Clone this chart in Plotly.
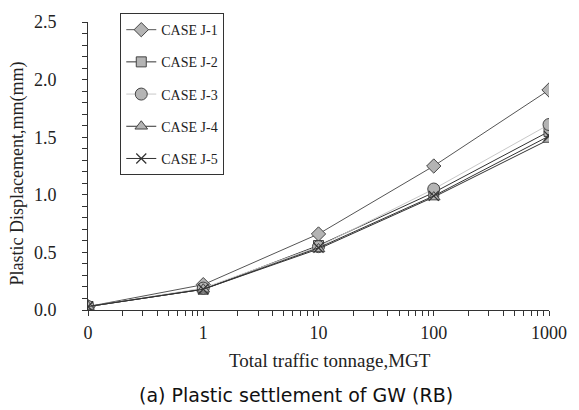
import plotly.graph_objects as go

x_vals = [0.1, 1, 10, 100, 1000]
x_ticktext = ["0", "1", "10", "100", "1000"]
series_names = ["CASE J-1", "CASE J-2", "CASE J-3", "CASE J-4", "CASE J-5"]
j1 = [0.03, 0.22, 0.66, 1.25, 1.91]
j2 = [0.03, 0.18, 0.56, 1.02, 1.55]
j3 = [0.03, 0.19, 0.55, 1.05, 1.61]
j4 = [0.03, 0.18, 0.53, 0.98, 1.48]
j5 = [0.03, 0.18, 0.54, 0.99, 1.51]
y_ticks = [0.0, 0.5, 1.0, 1.5, 2.0, 2.5]

styles = [
    dict(symbol="diamond", line_color="#555555", size=11),
    dict(symbol="square", line_color="#333333", size=10),
    dict(symbol="circle", line_color="#c8c8c8", size=12),
    dict(symbol="triangle-up", line_color="#333333", size=11),
    dict(symbol="x-thin", line_color="#333333", size=10),
]

fig = go.Figure()
for i, (name, ys, st) in enumerate(zip(series_names, [j1, j2, j3, j4, j5], styles)):
    if st["symbol"] == "x-thin":
        marker = dict(symbol="x-thin", size=st["size"], line=dict(color="#333333", width=1.2), color="#333333")
    else:
        marker = dict(symbol=st["symbol"], size=st["size"], color="#b4b4b4",
                      line=dict(color="#444444", width=1))
    fig.add_trace(go.Scatter(
        x=x_vals, y=ys, name=name, mode="lines+markers",
        line=dict(color=st["line_color"], width=1),
        marker=marker, legendgroup=f"g{i}",
    ))

minor_vals = [m * 10 ** e for e in range(-1, 3) for m in range(2, 10)]

fig.update_layout(
    width=579, height=410,
    margin=dict(l=88, r=18, t=21, b=100),
    paper_bgcolor="white", plot_bgcolor="white",
    font=dict(family="Liberation Serif", size=17, color="#222222"),
    showlegend=True,
    legend=dict(
        x=0.07, y=1.031, xanchor="left", yanchor="top",
        bgcolor="white", bordercolor="#333333", borderwidth=1,
        font=dict(family="Liberation Serif", size=14, color="#222222"),
        tracegroupgap=11, traceorder="grouped", itemwidth=30,
    ),
    xaxis=dict(
        type="log", range=[-1, 3],
        tickmode="array", tickvals=x_vals, ticktext=x_ticktext,
        ticks="outside", ticklen=5, tickcolor="#333333",
        showline=True, linecolor="#333333", linewidth=1,
        showgrid=False, zeroline=False,
        minor=dict(tickmode="array", tickvals=minor_vals, ticks="outside",
                   ticklen=5, tickcolor="#333333", showgrid=False),
        tickfont=dict(size=18), ticklabelstandoff=1,
    ),
    yaxis=dict(
        range=[0, 2.5], tickmode="array", tickvals=y_ticks,
        ticktext=[f"{v:.1f}" for v in y_ticks],
        ticks="outside", ticklen=5, tickcolor="#333333",
        showline=True, linecolor="#333333", linewidth=1,
        showgrid=False, zeroline=False,
        minor=dict(dtick=0.1, ticks="outside", ticklen=5, tickcolor="#333333", showgrid=False),
        tickfont=dict(size=18), ticklabelstandoff=22,
    ),
    annotations=[
        dict(text="Total traffic tonnage,MGT", xref="paper", yref="paper",
             x=0.526, y=-0.176, xanchor="center", yanchor="middle", showarrow=False,
             font=dict(family="Liberation Serif", size=19, color="#222222")),
        dict(text="Plastic Displacement,mm(mm)", xref="paper", yref="paper",
             x=-0.152, y=0.474, xanchor="center", yanchor="middle", showarrow=False,
             textangle=-90,
             font=dict(family="Liberation Serif", size=18, color="#222222")),
        dict(text="(a) Plastic settlement of GW (RB)", xref="paper", yref="paper",
             x=0.452, y=-0.294, xanchor="center", yanchor="middle", showarrow=False,
             font=dict(family="DejaVu Sans", size=19, color="#111111")),
    ],
)

fig.write_html("out.html")
